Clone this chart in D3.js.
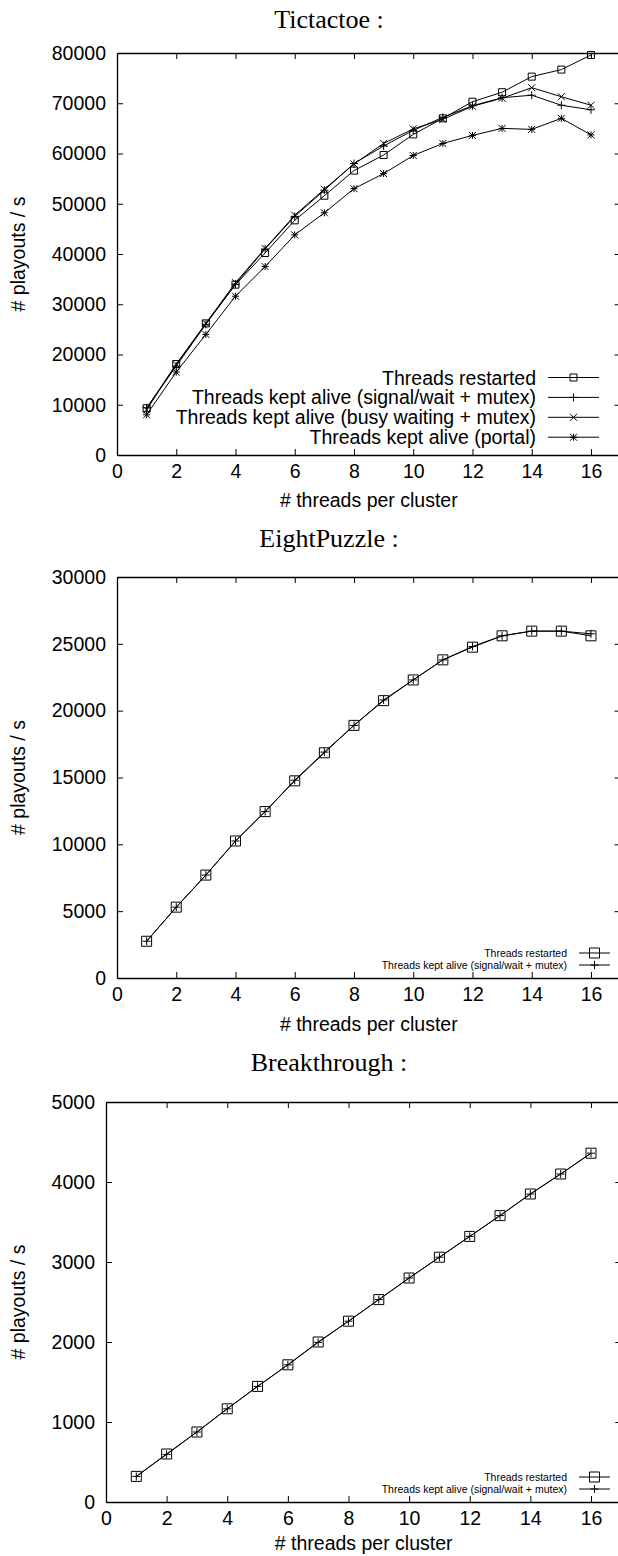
<!DOCTYPE html>
<html>
<head>
<meta charset="utf-8">
<script src="https://cdn.jsdelivr.net/npm/d3@7"></script>
<style>
  body { margin: 0; background: #fff; }
  svg { display: block; }
  .tick text { font-family: "Liberation Sans", Arial, sans-serif; font-size: 19.5px; fill: #000; }
  .label { font-family: "Liberation Sans", Arial, sans-serif; font-size: 19.5px; fill: #000; }
  .title { font-family: "Liberation Serif", "Times New Roman", serif; font-size: 26px; fill: #000; }
</style>
</head>
<body>
<script>
// x values (threads per cluster) and tick labels
var threads = [1, 2, 3, 4, 5, 6, 7, 8, 9, 10, 11, 12, 13, 14, 15, 16];
var xTicks = [0, 2, 4, 6, 8, 10, 12, 14, 16];

// Tictactoe playouts / s
var tictactoeRestarted = [9300, 18100, 26200, 33900, 40200, 46700, 51600, 56600, 59700, 63800, 67000, 70300, 72200, 75300, 76700, 79600];
var tictactoeSignal = [9400, 17700, 26000, 34000, 41000, 47500, 52700, 58000, 61500, 64600, 67200, 69500, 71100, 71600, 69600, 68700];
var tictactoeBusy = [9000, 18000, 26200, 34300, 41100, 47700, 52900, 57900, 62000, 64900, 66800, 69400, 71000, 73100, 71300, 69600];
var tictactoePortal = [8000, 16500, 24000, 31600, 37500, 43800, 48200, 53000, 56000, 59600, 62000, 63600, 65000, 64800, 67000, 63700];
var tictactoeYTicks = [0, 10000, 20000, 30000, 40000, 50000, 60000, 70000, 80000];

// EightPuzzle playouts / s
var eightRestarted = [2750, 5300, 7700, 10250, 12450, 14750, 16850, 18900, 20750, 22300, 23800, 24750, 25600, 25950, 25950, 25600];
var eightSignal = [2750, 5300, 7700, 10250, 12450, 14800, 16900, 18900, 20800, 22300, 23800, 24800, 25600, 25950, 25950, 25750];
var eightYTicks = [0, 5000, 10000, 15000, 20000, 25000, 30000];

// Breakthrough playouts / s
var breakRestarted = [320, 600, 875, 1165, 1445, 1715, 2000, 2260, 2530, 2800, 3060, 3320, 3580, 3850, 4100, 4360];
var breakSignal = [320, 595, 875, 1165, 1445, 1715, 1995, 2260, 2530, 2800, 3060, 3320, 3580, 3850, 4100, 4360];
var breakYTicks = [0, 1000, 2000, 3000, 4000, 5000];

// titles and legend texts
var chartTitles = ["Tictactoe :", "EightPuzzle :", "Breakthrough :"];
var legendLong = ["Threads restarted", "Threads kept alive (signal/wait + mutex)",
                  "Threads kept alive (busy waiting + mutex)", "Threads kept alive (portal)"];
var legendShort = ["Threads restarted", "Threads kept alive (signal/wait + mutex)"];

// the svg for the whole page
var svg = d3.select("body").append("svg")
    .attr("width", 618)
    .attr("height", 1556);

// point shapes like gnuplot's
function marker(type, size) {
  var s = size / 2;
  var p = d3.path();
  if (type == "square") {
    p.rect(-s, -s, size, size);
  }
  if (type == "plus" || type == "star") {
    p.moveTo(-s, 0); p.lineTo(s, 0);
    p.moveTo(0, -s); p.lineTo(0, s);
  }
  if (type == "cross" || type == "star") {
    p.moveTo(-s, -s); p.lineTo(s, s);
    p.moveTo(-s, s); p.lineTo(s, -s);
  }
  return p.toString();
}

function drawChart(c) {
  var x = d3.scaleLinear().domain([0, 17]).range([c.left, c.right]);
  var y = d3.scaleLinear().domain([0, c.yTicks[c.yTicks.length - 1]]).range([c.bottom, c.top]);

  var g = svg.append("g");

  // title
  g.append("text")
      .attr("class", "title")
      .attr("x", 329)
      .attr("y", c.titleY)
      .attr("text-anchor", "middle")
      .text(c.title);

  // bottom axis
  g.append("g")
      .attr("transform", "translate(0," + c.bottom + ")")
      .call(d3.axisBottom(x).tickValues(xTicks).tickFormat(d3.format("d"))
        .tickSize(-6).tickSizeOuter(0).tickPadding(9));
  // top axis (mirror ticks)
  g.append("g")
      .attr("transform", "translate(0," + c.top + ")")
      .call(d3.axisTop(x).tickValues(xTicks).tickSize(-6).tickSizeOuter(0).tickFormat(""));
  // left axis
  g.append("g")
      .attr("transform", "translate(" + c.left + ",0)")
      .call(d3.axisLeft(y).tickValues(c.yTicks).tickFormat(d3.format("d"))
        .tickSize(-6).tickSizeOuter(0).tickPadding(11));
  // right axis (mirror ticks)
  g.append("g")
      .attr("transform", "translate(" + c.right + ",0)")
      .call(d3.axisRight(y).tickValues(c.yTicks).tickSize(-6).tickSizeOuter(0).tickFormat(""));

  g.selectAll(".domain").attr("stroke", "#000").attr("stroke-width", 1.3);
  g.selectAll(".tick line").attr("stroke", "#000").attr("stroke-width", 1);

  // axis labels
  g.append("text")
      .attr("class", "label")
      .attr("x", (c.left + c.right) / 2)
      .attr("y", c.xLabelY)
      .attr("text-anchor", "middle")
      .text("# threads per cluster");

  g.append("text")
      .attr("class", "label")
      .attr("transform", "translate(25," + ((c.top + c.bottom) / 2) + ") rotate(-90)")
      .attr("text-anchor", "middle")
      .text("# playouts / s");

  var line = d3.line()
      .x(function(d, i) { return x(threads[i]); })
      .y(function(d) { return y(d); });

  // lines and points
  c.series.forEach(function(s) {
    g.append("path")
        .datum(s.values)
        .attr("fill", "none")
        .attr("stroke", "#000")
        .attr("stroke-width", 1)
        .attr("d", line);

    g.selectAll(null)
        .data(s.values)
        .enter().append("path")
        .attr("transform", function(d, i) { return "translate(" + x(threads[i]) + "," + y(d) + ")"; })
        .attr("d", marker(s.shape, s.size))
        .attr("fill", "none")
        .attr("stroke", "#000")
        .attr("stroke-width", 1);
  });

  // legend
  c.series.forEach(function(s, i) {
    var ly = c.legendY + i * c.legendStep;
    g.append("text")
        .attr("x", c.legendX)
        .attr("y", ly)
        .attr("dy", "0.36em")
        .attr("text-anchor", "end")
        .style("font-family", "'Liberation Sans', Arial, sans-serif")
        .style("font-size", c.legendFont + "px")
        .text(s.label);
    g.append("line")
        .attr("x1", c.legendX + 12)
        .attr("x2", c.legendX + 12 + c.legendLen)
        .attr("y1", ly)
        .attr("y2", ly)
        .attr("stroke", "#000");
    g.append("path")
        .attr("transform", "translate(" + (c.legendX + 12 + c.legendLen / 2) + "," + ly + ")")
        .attr("d", marker(s.shape, s.size))
        .attr("fill", "none")
        .attr("stroke", "#000");
  });
}

drawChart({
  title: chartTitles[0], titleY: 28,
  top: 53, bottom: 455, left: 117, right: 620.6, xLabelY: 507,
  yTicks: tictactoeYTicks,
  legendX: 536, legendY: 377.5, legendStep: 19.9, legendLen: 51, legendFont: 19.5,
  series: [
    {values: tictactoeRestarted, shape: "square", size: 7, label: legendLong[0]},
    {values: tictactoeSignal, shape: "plus", size: 8, label: legendLong[1]},
    {values: tictactoeBusy, shape: "cross", size: 7, label: legendLong[2]},
    {values: tictactoePortal, shape: "star", size: 7, label: legendLong[3]}
  ]
});

drawChart({
  title: chartTitles[1], titleY: 547,
  top: 577, bottom: 978, left: 117, right: 620.6, xLabelY: 1031,
  yTicks: eightYTicks,
  legendX: 567, legendY: 953, legendStep: 12, legendLen: 31, legendFont: 10.5,
  series: [
    {values: eightRestarted, shape: "square", size: 10, label: legendShort[0]},
    {values: eightSignal, shape: "plus", size: 8, label: legendShort[1]}
  ]
});

drawChart({
  title: chartTitles[2], titleY: 1071,
  top: 1102, bottom: 1502, left: 106, right: 621.3, xLabelY: 1550,
  yTicks: breakYTicks,
  legendX: 567, legendY: 1477, legendStep: 12, legendLen: 31, legendFont: 10.5,
  series: [
    {values: breakRestarted, shape: "square", size: 10, label: legendShort[0]},
    {values: breakSignal, shape: "plus", size: 8, label: legendShort[1]}
  ]
});
</script>
</body>
</html>
